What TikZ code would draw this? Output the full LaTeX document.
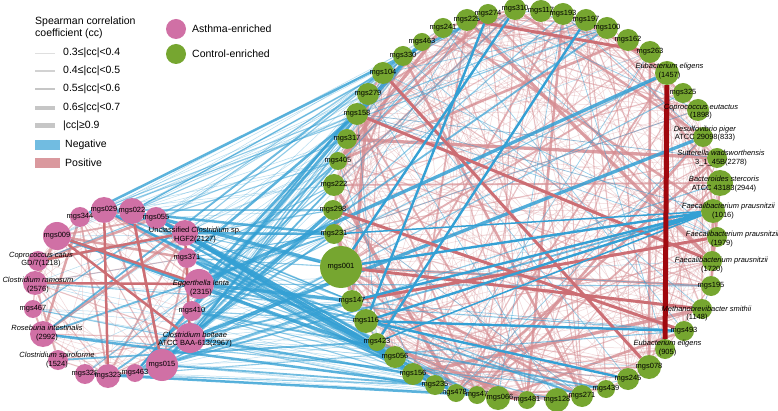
\documentclass[tikz,border=0pt]{standalone}
\usepackage{fontspec}
\setmainfont{Liberation Sans}
\usepackage{tikz}
\usetikzlibrary{backgrounds}

\definecolor{asthma}{RGB}{208,112,165}
\definecolor{control}{RGB}{118,166,48}
\definecolor{negblue}{RGB}{52,160,212}
\definecolor{posred}{RGB}{214,142,147}
\definecolor{posdark}{RGB}{204,110,116}
\definecolor{heavyred}{RGB}{160,8,14}

% random edge weight -> width + opacity
\newcommand{\pickwidth}{%
  \pgfmathrandominteger{\rw}{0}{99}%
  \ifnum\rw<60 \def\ewidth{0.5pt}\def\eop{0.35}%
  \else\ifnum\rw<82 \def\ewidth{1.1pt}\def\eop{0.55}%
  \else\ifnum\rw<92 \def\ewidth{1.8pt}\def\eop{0.7}%
  \else\ifnum\rw<98 \def\ewidth{2.5pt}\def\eop{0.8}%
  \else\def\ewidth{3.3pt}\def\eop{0.85}\fi\fi\fi\fi}

\begin{document}
\begin{tikzpicture}[
  x=1pt,y=-1pt,
  asth/.style={circle,fill=asthma,inner sep=0pt},
  ctrl/.style={circle,fill=control,inner sep=0pt},
  lab/.style={font=\fontsize{7.5}{8}\selectfont,inner sep=0pt},
  sp/.style={font=\fontsize{7.5}{8.2}\selectfont,inner sep=0pt,align=center},
  neglink/.style={draw=negblue},
  poslink/.style={draw=posred},
  legl/.style={draw=gray!45},
  legtxt/.style={font=\fontsize{10.5}{12.5}\selectfont,anchor=west,inner sep=0pt}]

\useasboundingbox (0,0) rectangle (778,411);

% ================= legend =================
\node[legtxt,align=left] (legtitle) at (35,28) {Spearman correlation\\coefficient (cc)};
\draw[legl,draw=gray!25,line width=0.8pt] (35,53) -- (55,53);
\node[legtxt] (leg1) at (63,53) {0.3≤|cc|<0.4};
\draw[legl,draw=gray!35,line width=1.8pt] (35,71) -- (55,71);
\node[legtxt] (leg2) at (63,71) {0.4≤|cc|<0.5};
\draw[legl,line width=2.6pt] (35,89) -- (55,89);
\node[legtxt] (leg3) at (63,89) {0.5≤|cc|<0.6};
\draw[legl,line width=3.4pt] (35,108) -- (55,108);
\node[legtxt] (leg4) at (63,108) {0.6≤|cc|<0.7};
\draw[legl,line width=5pt] (35,126) -- (55,126);
\node[legtxt] (leg5) at (63,126) {|cc|≥0.9};
\fill[negblue!70] (35,140) rectangle (60,150);
\node[legtxt] (legneg) at (65,145) {Negative};
\fill[posred!90] (35,158) rectangle (60,168);
\node[legtxt] (legpos) at (65,163) {Positive};
\node[asth,minimum size=20pt] (legA) at (176,29) {};
\node[legtxt] (legAt) at (192,29) {Asthma-enriched};
\node[ctrl,minimum size=20pt] (legC) at (176,54) {};
\node[legtxt] (legCt) at (192,54) {Control-enriched};

% ================= asthma-enriched cluster (left) =================
\node[asth,minimum size=28pt,label={[lab]center:mgs009}] (a1) at (57,236) {};
\node[asth,minimum size=20pt,label={[lab]center:mgs344}] (a2) at (80,217) {};
\node[asth,minimum size=26pt,label={[lab]center:mgs029}] (a3) at (104,210) {};
\node[asth,minimum size=26pt,label={[lab]center:mgs022}] (a4) at (132,211) {};
\node[asth,minimum size=22pt,label={[lab]center:mgs055}] (a5) at (156,218) {};
\node[asth,minimum size=26pt,label={[sp,xshift=10pt,yshift=-2pt]center:Unclassified \textit{Clostridium} sp.\\HGF2(2127)}] (a6) at (185,233) {};
\node[asth,minimum size=20pt,label={[lab]center:mgs371}] (a7) at (187,258) {};
\node[asth,minimum size=30pt,label={[sp,xshift=2pt,yshift=-4pt]center:\textit{Eggerthella lenta}\\(2315)}] (a8) at (199,284) {};
\node[asth,minimum size=20pt,label={[lab]center:mgs410}] (a9) at (192,311) {};
\node[asth,minimum size=30pt,label={[sp,xshift=5pt,yshift=-1.5pt]center:\textit{Clostridium bolteae}\\ATCC BAA-613(2967)}] (a10) at (190,338) {};
\node[asth,minimum size=32pt,label={[lab]center:mgs015}] (a11) at (162,365) {};
\node[asth,minimum size=18pt,label={[lab]center:mgs463}] (a12) at (135,373) {};
\node[asth,minimum size=20pt,label={[lab]center:mgs328}] (a14) at (85,374) {};
\node[asth,minimum size=24pt,label={[lab]center:mgs323}] (a13) at (108,376) {};
\node[asth,minimum size=20pt,label={[sp,xshift=-1pt]center:\textit{Clostridium spiroforme}\\(1524)}] (a15) at (58,360) {};
\node[asth,minimum size=26pt,label={[sp,xshift=4pt,yshift=1pt]center:\textit{Roseburia intestinalis}\\(2992)}] (a16) at (43,334) {};
\node[asth,minimum size=18pt,label={[lab]center:mgs467}] (a17) at (33,309) {};
\node[asth,minimum size=24pt,label={[sp,xshift=3pt,yshift=-2pt]center:\textit{Clostridium ramosum}\\(2576)}] (a18) at (35,283) {};
\node[asth,minimum size=20pt,label={[sp,xshift=3pt,yshift=1pt]center:\textit{Coprococcus catus}\\GD/7(1218)}] (a19) at (38,261) {};

% ================= control-enriched ring (right) =================
\node[ctrl,minimum size=24pt,label={[lab]center:mgs116}] (g1) at (366,321) {};
\node[ctrl,minimum size=22pt,label={[lab]center:mgs147}] (g2) at (352,301) {};
\node[ctrl,minimum size=42pt,label={[lab]center:mgs001}] (g3) at (341,267) {};
\node[ctrl,minimum size=20pt,label={[lab]center:mgs231}] (g4) at (334,234) {};
\node[ctrl,minimum size=20pt,label={[lab]center:mgs298}] (g5) at (333,210) {};
\node[ctrl,minimum size=22pt,label={[lab]center:mgs222}] (g6) at (334,185) {};
\node[ctrl,minimum size=18pt,label={[lab]center:mgs405}] (g7) at (338,161) {};
\node[ctrl,minimum size=20pt,label={[lab]center:mgs317}] (g8) at (347,139) {};
\node[ctrl,minimum size=22pt,label={[lab]center:mgs158}] (g9) at (357,114) {};
\node[ctrl,minimum size=22pt,label={[lab]center:mgs279}] (g10) at (368,94) {};
\node[ctrl,minimum size=22pt,label={[lab]center:mgs104}] (g11) at (383,73) {};
\node[ctrl,minimum size=20pt,label={[lab]center:mgs330}] (g12) at (403,56) {};
\node[ctrl,minimum size=18pt,label={[lab]center:mgs463}] (g13) at (422,42) {};
\node[ctrl,minimum size=20pt,label={[lab]center:mgs241}] (g14) at (443,28) {};
\node[ctrl,minimum size=22pt,label={[lab]center:mgs225}] (g15) at (467,20) {};
\node[ctrl,minimum size=20pt,label={[lab]center:mgs274}] (g16) at (488,14) {};
\node[ctrl,minimum size=22pt,label={[lab]center:mgs310}] (g17) at (515,9) {};
\node[ctrl,minimum size=22pt,label={[lab]center:mgs117}] (g18) at (541,11) {};
\node[ctrl,minimum size=22pt,label={[lab]center:mgs193}] (g19) at (563,14) {};
\node[ctrl,minimum size=22pt,label={[lab]center:mgs197}] (g20) at (586,20) {};
\node[ctrl,minimum size=22pt,label={[lab]center:mgs100}] (g21) at (607,28) {};
\node[ctrl,minimum size=22pt,label={[lab]center:mgs162}] (g22) at (628,40) {};
\node[ctrl,minimum size=22pt,label={[lab]center:mgs263}] (g23) at (650,52) {};
\node[ctrl,minimum size=24pt,label={[sp,xshift=2.5pt,yshift=2pt]center:\textit{Eubacterium eligens}\\(1457)}] (g24) at (667,73) {};
\node[ctrl,minimum size=20pt,label={[lab]center:mgs325}] (g25) at (683,93) {};
\node[ctrl,minimum size=22pt,label={[sp,xshift=3pt,yshift=-2pt]center:\textit{Coprococcus eutactus}\\(1898)}] (g26) at (698,110) {};
\node[ctrl,minimum size=20pt,label={[sp,xshift=2pt,yshift=3.5pt]center:\textit{Desulfovibrio piger}\\ATCC 29098(833)}] (g27) at (703,137) {};
\node[ctrl,minimum size=20pt,label={[sp,xshift=4pt]center:\textit{Sutterella wadsworthensis}\\3\_1\_45B(2278)}] (g28) at (717,158) {};
\node[ctrl,minimum size=26pt,label={[sp,xshift=4pt,yshift=-1pt]center:\textit{Bacteroides stercoris}\\ATCC 43183(2944)}] (g29) at (720,183) {};
\node[ctrl,minimum size=24pt,label={[sp,xshift=15.5pt]center:\textit{Faecalibacterium prausnitzii}\\(1016)\hspace*{11pt}}] (g30) at (713,211) {};
\node[ctrl,minimum size=20pt,label={[sp,xshift=15.5pt,yshift=-2pt]center:\textit{Faecalibacterium prausnitzii}\\(1979)\hspace*{21pt}}] (g31) at (717,237) {};
\node[ctrl,minimum size=20pt,label={[sp,xshift=9.5pt,yshift=-4pt]center:\textit{Faecalibacterium prausnitzii}\\(1720)\hspace*{19pt}}] (g32) at (712,261) {};
\node[ctrl,minimum size=20pt,label={[lab]center:mgs195}] (g33) at (711,286) {};
\node[ctrl,minimum size=20pt,label={[sp,xshift=4.5pt,yshift=-4.5pt]center:\textit{Methanobrevibacter smithii}\\(1148)\hspace*{19pt}}] (g34) at (702,309) {};
\node[ctrl,minimum size=20pt,label={[lab]center:mgs493}] (g35) at (684,331) {};
\node[ctrl,minimum size=20pt,label={[sp,xshift=2.5pt,yshift=1pt]center:\textit{Eubacterium eligens}\\(905)}] (g36) at (665,349) {};
\node[ctrl,minimum size=24pt,label={[lab]center:mgs078}] (g37) at (649,367) {};
\node[ctrl,minimum size=22pt,label={[lab]center:mgs245}] (g38) at (628,379) {};
\node[ctrl,minimum size=18pt,label={[lab]center:mgs439}] (g39) at (606,389) {};
\node[ctrl,minimum size=22pt,label={[lab]center:mgs271}] (g40) at (582,396) {};
\node[ctrl,minimum size=24pt,label={[lab]center:mgs128}] (g41) at (557,400) {};
\node[ctrl,minimum size=18pt,label={[lab]center:mgs481}] (g42) at (527,400) {};
\node[ctrl,minimum size=18pt,label={[lab]center:mgs47}] (g44) at (477,395) {};
\node[ctrl,minimum size=24pt,label={[lab,xshift=2pt]center:mgs066}] (g43) at (498,398) {};
\node[ctrl,minimum size=18pt,label={[lab,xshift=-2.5pt]center:mgs478}] (g45) at (456,393) {};
\node[ctrl,minimum size=20pt,label={[lab]center:mgs235}] (g46) at (435,385) {};
\node[ctrl,minimum size=22pt,label={[lab]center:mgs156}] (g47) at (413,374) {};
\node[ctrl,minimum size=22pt,label={[lab]center:mgs056}] (g48) at (395,357) {};
\node[ctrl,minimum size=18pt,label={[lab]center:mgs423}] (g49) at (377,342) {};

% ================= correlation links =================
\begin{scope}[on background layer]
  \fill[white] (0,0) rectangle (778,411);
  \pgfmathsetseed{11}
  % positive mesh inside the ring
  \foreach \i in {1,...,48}{
    \pgfmathtruncatemacro{\jfrom}{\i+1}
    \foreach \j in {\jfrom,...,49}{
      \pgfmathrandominteger{\rr}{0}{99}
      \ifnum\rr<32 \pickwidth\draw[poslink,line width=\ewidth,draw opacity=\eop] (g\i) -- (g\j);\fi
    }
  }
  % positive links inside the asthma cluster
  \foreach \i in {1,...,18}{
    \pgfmathtruncatemacro{\jfrom}{\i+1}
    \foreach \j in {\jfrom,...,19}{
      \pgfmathrandominteger{\rr}{0}{99}
      \ifnum\rr<42 \pickwidth\draw[poslink,line width=\ewidth,draw opacity=\eop] (a\i) -- (a\j);\fi
    }
  }
  % a few negative links inside the ring
  \foreach \i in {1,...,48}{
    \pgfmathtruncatemacro{\jfrom}{\i+1}
    \foreach \j in {\jfrom,...,49}{
      \pgfmathrandominteger{\rr}{0}{99}
      \ifnum\rr<2 \draw[neglink,line width=0.7pt,draw opacity=0.5] (g\i) -- (g\j);\fi
    }
  }
  % negative links asthma -> control, mostly onto the near arc
  \foreach \a in {1,...,19}{
    \foreach \g in {1,...,49}{
      \pgfmathrandominteger{\rr}{0}{99}
      \pgfmathtruncatemacro{\plink}{(\g<14 || \g>43) ? ((\a>2 && \a<13) ? 62 : 20) : ((\a>2 && \a<13) ? 9 : 3)}
      \ifnum\rr<\plink\relax \pickwidth\draw[neglink,line width=\ewidth,draw opacity=\eop] (a\a) -- (g\g);\fi
    }
  }
  % heavy links
  \draw[poslink,draw=posdark,line width=3pt] (g15) -- (g23) (g9) -- (g32) (g11) -- (g37)
    (g5) -- (g35) (g2) -- (g31) (g3) -- (g34);
  \draw[poslink,draw=posdark,line width=2.5pt] (a1) -- (a10) (a18) -- (a8) (a3) -- (a13)
    (a4) -- (a11) (a6) -- (a10) (a19) -- (a6) (a1) -- (a8);
  \draw[neglink,line width=2.4pt] (g30) -- (g3) (g30) -- (g2) (g30) -- (g1) (g20) -- (g49)
    (g38) -- (g1) (g35) -- (g1) (g16) -- (g1) (g17) -- (g3);
  \draw[neglink,line width=1.5pt] (g30) -- (g49) (g30) -- (g4);
  \draw[draw=heavyred,line width=5pt] (g24) -- (g36);
\end{scope}
\end{tikzpicture}
\end{document}
